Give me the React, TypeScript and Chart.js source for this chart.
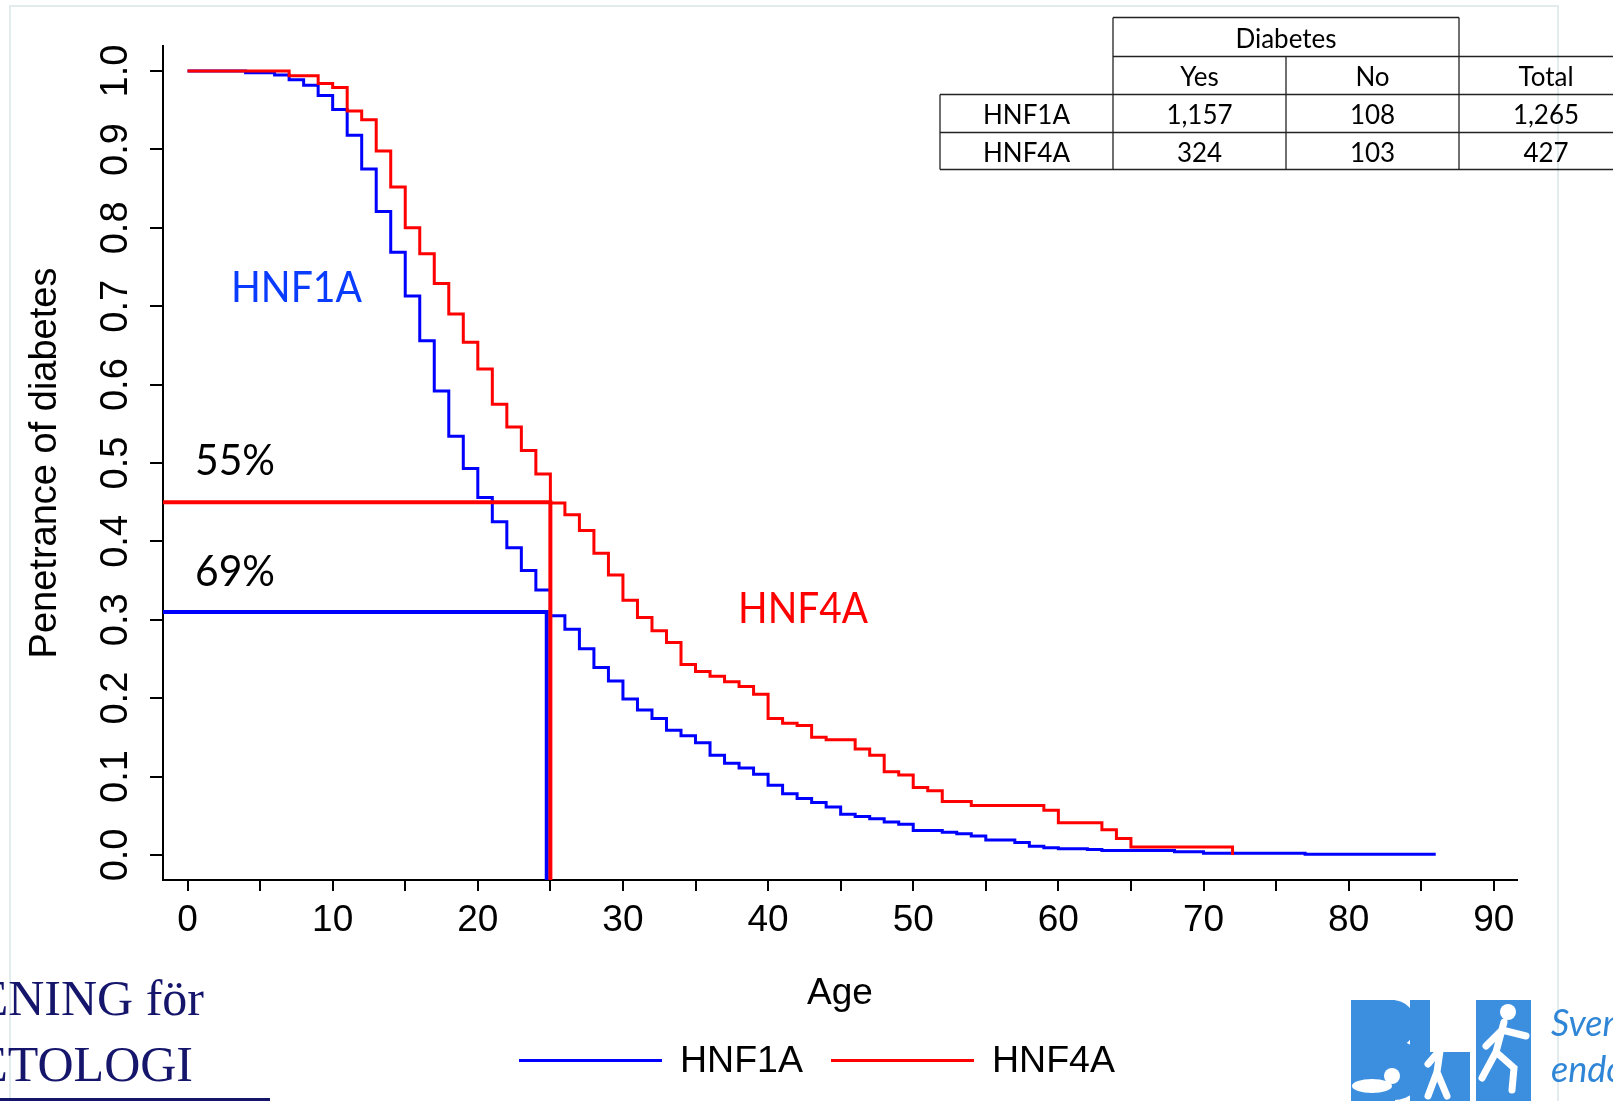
import React, { useEffect, useRef } from "react";
import { Chart, registerables } from "chart.js";

Chart.register(...registerables);

// ---------- data ----------
const hnf1aAges = [0, 4, 6, 7, 8, 9, 10, 11, 12, 13, 14, 15, 16, 17, 18, 19, 20, 21, 22, 23, 24, 25, 26, 27, 28, 29, 30, 31, 32, 33, 34, 35, 36, 37, 38, 39, 40, 41, 42, 43, 44, 45, 46, 47, 48, 49, 50, 52, 53, 54, 55, 57, 58, 59, 60, 62, 63, 68, 70, 77, 86];
const hnf1aValues = [1.0, 0.998, 0.995, 0.989, 0.982, 0.969, 0.951, 0.918, 0.875, 0.821, 0.769, 0.713, 0.656, 0.592, 0.534, 0.493, 0.456, 0.425, 0.392, 0.363, 0.338, 0.305, 0.288, 0.263, 0.239, 0.222, 0.199, 0.185, 0.174, 0.159, 0.152, 0.143, 0.127, 0.117, 0.111, 0.103, 0.089, 0.078, 0.072, 0.067, 0.061, 0.052, 0.049, 0.046, 0.042, 0.039, 0.031, 0.029, 0.027, 0.024, 0.019, 0.016, 0.011, 0.009, 0.008, 0.007, 0.0055, 0.004, 0.002, 0.001, 0.001];

const hnf4aAges = [0, 7, 9, 10, 11, 12, 13, 14, 15, 16, 17, 18, 19, 20, 21, 22, 23, 24, 25, 26, 27, 28, 29, 30, 31, 32, 33, 34, 35, 36, 37, 38, 39, 40, 41, 42, 43, 44, 46, 47, 48, 49, 50, 51, 52, 54, 59, 60, 63, 64, 65, 72];
const hnf4aValues = [1.0, 0.994, 0.984, 0.979, 0.949, 0.938, 0.898, 0.852, 0.8, 0.767, 0.729, 0.69, 0.654, 0.62, 0.575, 0.546, 0.516, 0.486, 0.449, 0.434, 0.414, 0.385, 0.357, 0.325, 0.303, 0.286, 0.271, 0.243, 0.234, 0.228, 0.221, 0.215, 0.205, 0.174, 0.168, 0.165, 0.15, 0.147, 0.135, 0.127, 0.106, 0.102, 0.086, 0.082, 0.068, 0.063, 0.057, 0.041, 0.032, 0.021, 0.01, 0.0];

// marker lines at age 25 (HNF1A, HNF4A)
const markerAges = [24.75, 25];
const markerLevels = [0.31, 0.45];
const markerLabels = ["69%", "55%"];

const xTickValues = [0, 5, 10, 15, 20, 25, 30, 35, 40, 45, 50, 55, 60, 65, 70, 75, 80, 85, 90];
const yTickValues = [0, 0.1, 0.2, 0.3, 0.4, 0.5, 0.6, 0.7, 0.8, 0.9, 1.0];

const tableGenes = ["HNF1A", "HNF4A"];
const tableYes = [1157, 324];
const tableNo = [108, 103];
const tableTotal = [1265, 427];

const X_MIN = -1.69;
const X_MAX = 91.6;
const Y_MIN = -0.032;
const Y_MAX = 1.032;

const BLUE = "#0000ff";
const RED = "#ff0000";
const AXIS_FONT = '"Liberation Sans", Arial, sans-serif';
const CAL_FONT = 'Lato, "Open Sans", sans-serif';

function fitted(ctx: CanvasRenderingContext2D, text: string, left: number, baseline: number, font: string, width: number, color: string) {
  ctx.save();
  ctx.font = font;
  const w = ctx.measureText(text).width;
  ctx.translate(left, baseline);
  ctx.scale(width / w, 1);
  ctx.fillStyle = color;
  ctx.textAlign = "left";
  ctx.textBaseline = "alphabetic";
  ctx.fillText(text, 0, 0);
  ctx.restore();
}

const fmt = (n: number) => n.toLocaleString("en-US");

export default function App() {
  const ref = useRef<HTMLCanvasElement | null>(null);

  useEffect(() => {
    const canvas = ref.current;
    if (!canvas) return;

    const decor = {
      id: "decor",
      beforeDraw(chart: any) {
        const ctx = chart.ctx as CanvasRenderingContext2D;
        ctx.save();
        ctx.fillStyle = "#ffffff";
        ctx.fillRect(0, 0, chart.width, chart.height);
        // slide frame
        ctx.strokeStyle = "#e2ebee";
        ctx.lineWidth = 2;
        ctx.beginPath();
        ctx.moveTo(10, 1101);
        ctx.lineTo(10, 6);
        ctx.lineTo(1558, 6);
        ctx.lineTo(1558, 1101);
        ctx.stroke();
        ctx.restore();
      },
      afterDraw(chart: any) {
        const ctx = chart.ctx as CanvasRenderingContext2D;
        ctx.save();

        // ---- in-plot annotations ----
        fitted(ctx, "HNF1A", 231, 302, `42px ${CAL_FONT}`, 131, "#0a3cff");
        fitted(ctx, "HNF4A", 738, 623, `42px ${CAL_FONT}`, 130, RED);
        fitted(ctx, markerLabels[1], 195, 475, `42px ${CAL_FONT}`, 80, "#000");
        fitted(ctx, markerLabels[0], 195, 586, `42px ${CAL_FONT}`, 80, "#000");

        // ---- table ----
        ctx.strokeStyle = "#222";
        ctx.lineWidth = 1.3;
        const h = (x1: number, x2: number, y: number) => { ctx.beginPath(); ctx.moveTo(x1, y); ctx.lineTo(x2, y); ctx.stroke(); };
        const v = (x: number, y1: number, y2: number) => { ctx.beginPath(); ctx.moveTo(x, y1); ctx.lineTo(x, y2); ctx.stroke(); };
        h(1113, 1459, 17.5);
        h(1113, 1613, 56.5);
        h(940, 1613, 94.5);
        h(940, 1613, 132.5);
        h(940, 1613, 169.5);
        v(940, 94.5, 169.5);
        v(1113, 17.5, 169.5);
        v(1286, 56.5, 169.5);
        v(1459, 17.5, 169.5);
        ctx.fillStyle = "#000";
        ctx.font = `26px ${CAL_FONT}`;
        ctx.textAlign = "center";
        ctx.textBaseline = "middle";
        ctx.fillText("Diabetes", 1286, 40);
        ctx.fillText("Yes", 1199.5, 78);
        ctx.fillText("No", 1372.5, 78);
        ctx.fillText("Total", 1546, 78);
        const rowY = [116, 154];
        tableGenes.forEach((g, i) => {
          ctx.fillText(g, 1026.5, rowY[i]);
          ctx.fillText(fmt(tableYes[i]), 1199.5, rowY[i]);
          ctx.fillText(fmt(tableNo[i]), 1372.5, rowY[i]);
          ctx.fillText(fmt(tableTotal[i]), 1546, rowY[i]);
        });

        // ---- legend ----
        const legendItems = [
          { label: "HNF1A", color: BLUE, x: 519 },
          { label: "HNF4A", color: RED, x: 831 },
        ];
        ctx.font = `37.5px ${AXIS_FONT}`;
        ctx.textAlign = "left";
        ctx.textBaseline = "middle";
        legendItems.forEach((it) => {
          ctx.strokeStyle = it.color;
          ctx.lineWidth = 3;
          ctx.beginPath();
          ctx.moveTo(it.x, 1060.5);
          ctx.lineTo(it.x + 143, 1060.5);
          ctx.stroke();
          ctx.fillStyle = "#000";
          ctx.fillText(it.label, it.x + 161, 1062);
        });

        // ---- left logo text ----
        ctx.fillStyle = "#15166b";
        ctx.font = `50px "Liberation Serif", "Times New Roman", serif`;
        ctx.textAlign = "right";
        ctx.textBaseline = "alphabetic";
        ctx.fillText("ENING för", 204, 1015);
        ctx.fillText("ETOLOGI", 193, 1081);
        ctx.fillRect(0, 1098, 270, 3);

        // ---- right logo ----
        const lb = "#3b8fde";
        ctx.fillStyle = lb;
        ctx.fillRect(1351, 1000, 44, 101);
        ctx.beginPath();
        ctx.arc(1392, 1024, 24, -Math.PI / 2, Math.PI / 2);
        ctx.fill();
        ctx.beginPath();
        ctx.arc(1394, 1070, 30, -Math.PI / 2, Math.PI / 2);
        ctx.fill();
        ctx.fillRect(1410, 1000, 20, 101);
        ctx.fillRect(1410, 1052, 60, 49);
        ctx.fillRect(1476, 1000, 55, 101);
        ctx.fillStyle = "#ffffff";
        // crawling baby
        ctx.beginPath();
        ctx.ellipse(1372, 1086, 20, 7, 0, 0, Math.PI * 2);
        ctx.fill();
        ctx.beginPath();
        ctx.arc(1392, 1076, 8, 0, Math.PI * 2);
        ctx.fill();
        // walking child
        ctx.beginPath();
        ctx.arc(1443, 1034, 8, 0, Math.PI * 2);
        ctx.fill();
        ctx.strokeStyle = "#ffffff";
        ctx.lineWidth = 7;
        ctx.lineCap = "round";
        ctx.beginPath();
        ctx.moveTo(1441, 1044); ctx.lineTo(1437, 1072);
        ctx.moveTo(1437, 1072); ctx.lineTo(1428, 1096);
        ctx.moveTo(1437, 1072); ctx.lineTo(1447, 1096);
        ctx.moveTo(1440, 1050); ctx.lineTo(1428, 1064);
        ctx.stroke();
        // running child
        ctx.beginPath();
        ctx.arc(1508, 1012, 8, 0, Math.PI * 2);
        ctx.fill();
        ctx.beginPath();
        ctx.moveTo(1504, 1022); ctx.lineTo(1496, 1052);
        ctx.moveTo(1496, 1052); ctx.lineTo(1482, 1078);
        ctx.moveTo(1496, 1052); ctx.lineTo(1514, 1068); ctx.lineTo(1512, 1090);
        ctx.moveTo(1502, 1030); ctx.lineTo(1526, 1036);
        ctx.moveTo(1502, 1030); ctx.lineTo(1486, 1046);
        ctx.stroke();
        ctx.fillStyle = "#2f86d6";
        ctx.font = `italic 36px ${CAL_FONT}`;
        ctx.textAlign = "left";
        ctx.fillText("Svenska", 1551, 1036);
        ctx.fillText("endokrinologi", 1551, 1082);

        ctx.restore();
      },
    };

    const chart = new Chart(canvas, {
      type: "line",
      data: {
        datasets: [
          {
            label: "HNF1A",
            data: hnf1aAges.map((a, i) => ({ x: a, y: hnf1aValues[i] })),
            borderColor: BLUE,
            backgroundColor: BLUE,
            borderWidth: 3,
            stepped: true,
            pointRadius: 0,
            fill: false,
            order: 4,
          },
          {
            label: "HNF4A",
            data: hnf4aAges.map((a, i) => ({ x: a, y: hnf4aValues[i] })),
            borderColor: RED,
            backgroundColor: RED,
            borderWidth: 3,
            stepped: true,
            pointRadius: 0,
            fill: false,
            order: 3,
          },
          {
            label: "HNF1A marker",
            data: [
              { x: X_MIN, y: markerLevels[0] },
              { x: markerAges[0], y: markerLevels[0] },
              { x: markerAges[0], y: Y_MIN },
            ],
            borderColor: BLUE,
            borderWidth: 4,
            pointRadius: 0,
            fill: false,
            order: 2,
          },
          {
            label: "HNF4A marker",
            data: [
              { x: X_MIN, y: markerLevels[1] },
              { x: markerAges[1], y: markerLevels[1] },
              { x: markerAges[1], y: Y_MIN },
            ],
            borderColor: RED,
            borderWidth: 4,
            pointRadius: 0,
            fill: false,
            order: 1,
          },
        ],
      },
      options: {
        animation: false,
        responsive: false,
        devicePixelRatio: 1,
        layout: { padding: { top: 46, right: 96, bottom: 0, left: 0 } },
        plugins: {
          legend: { display: false },
          tooltip: { enabled: false },
          title: { display: false },
        },
        scales: {
          x: {
            type: "linear",
            min: X_MIN,
            max: X_MAX,
            afterBuildTicks: (s: any) => {
              s.ticks = xTickValues.map((value) => ({ value }));
            },
            afterFit: (s: any) => {
              s.height = 221;
            },
            ticks: {
              autoSkip: false,
              maxRotation: 0,
              minRotation: 0,
              padding: 8,
              color: "#000",
              font: { family: AXIS_FONT, size: 37 },
              callback: (val: any) => (Number(val) % 10 === 0 ? String(val) : ""),
            },
            grid: { drawOnChartArea: false, drawTicks: true, tickLength: 11, color: "#000", lineWidth: 2 },
            border: { display: true, color: "#000", width: 2 },
            title: {
              display: true,
              text: "Age",
              color: "#000",
              font: { family: AXIS_FONT, size: 37 },
              padding: { top: 0, bottom: 85 },
            },
          },
          y: {
            type: "linear",
            min: Y_MIN,
            max: Y_MAX,
            afterBuildTicks: (s: any) => {
              s.ticks = yTickValues.map((value) => ({ value }));
            },
            afterFit: (s: any) => {
              s.width = 163;
            },
            ticks: {
              autoSkip: false,
              minRotation: 90,
              maxRotation: 90,
              crossAlign: "center",
              padding: 7,
              color: "#000",
              font: { family: AXIS_FONT, size: 38 },
              callback: (val: any) => Number(val).toFixed(1),
            },
            grid: { drawOnChartArea: false, drawTicks: true, tickLength: 13, color: "#000", lineWidth: 2 },
            border: { display: true, color: "#000", width: 2 },
            title: {
              display: true,
              text: "Penetrance of diabetes",
              color: "#000",
              font: { family: AXIS_FONT, size: 38 },
              padding: { top: 23, bottom: 0 },
            },
          },
        },
      } as any,
      plugins: [decor],
    });

    return () => chart.destroy();
  }, []);

  return (
    <div style={{ position: "fixed", left: 0, top: 0, width: 1613, height: 1101, background: "#fff" }}>
      <canvas ref={ref} width={1613} height={1101} style={{ display: "block", width: 1613, height: 1101 }} />
    </div>
  );
}
